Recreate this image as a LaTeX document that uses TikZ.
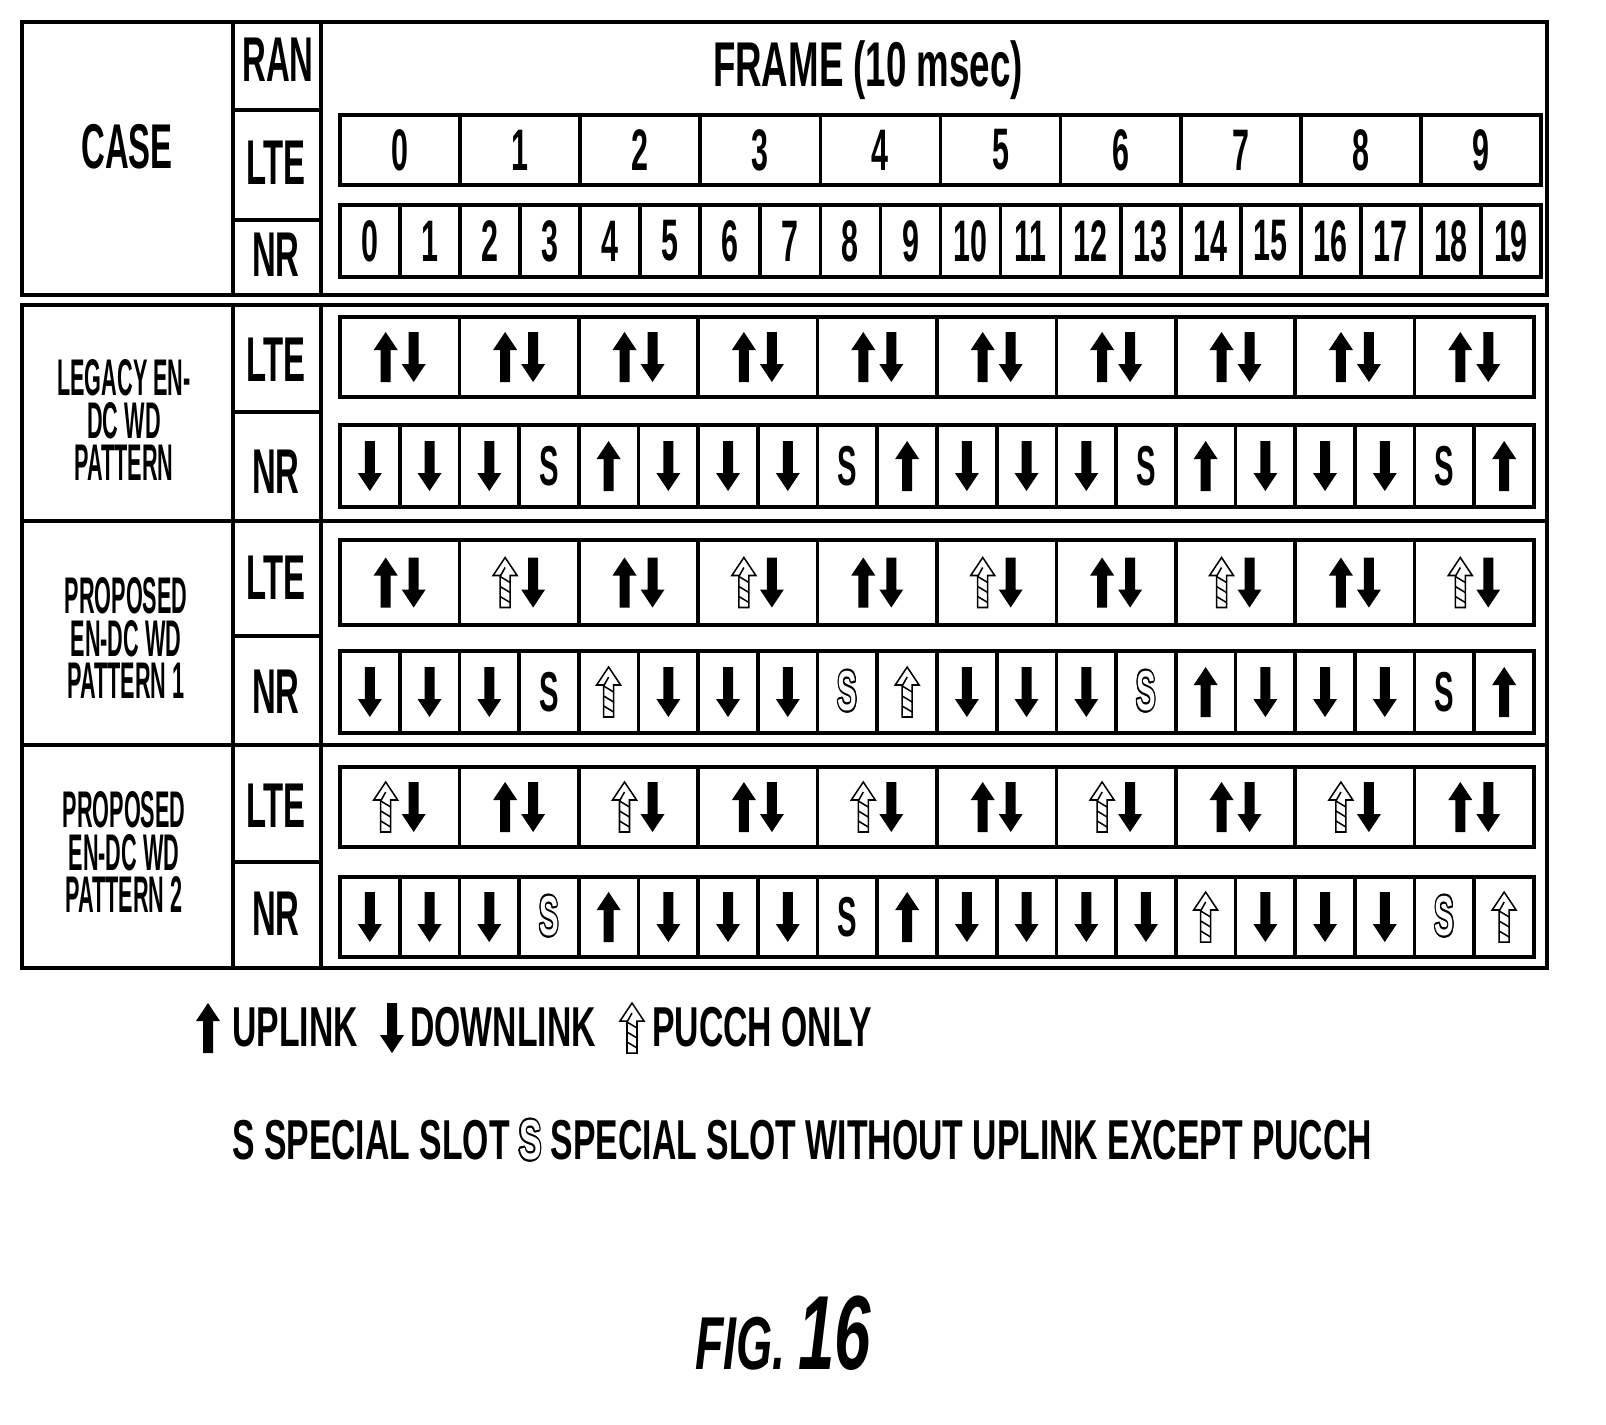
\documentclass[tikz,border=0pt]{standalone}
\usepackage{fontspec}
\setmainfont{Liberation Sans}
\usepackage{contour}
\contourlength{1.6pt}
\newcommand{\TX}[2][54]{\scalebox{0.52}[1]{\fontsize{#1}{#1}\selectfont\bfseries #2}}
\newcommand{\TC}[1]{\scalebox{0.42}[1]{\fontsize{44}{44}\selectfont\bfseries #1}}
\newcommand{\TL}[1]{\scalebox{0.6}[1]{\fontsize{48}{48}\selectfont\bfseries #1}}
\newcommand{\OutS}{\contour{black}{\textcolor{white}{S}}}
\tikzset{
 thk/.style={line width=3.2pt},
 lbl/.style={inner sep=0pt,anchor=center},
 pics/upS/.style={code={\fill[black] (-5,25)--(-5,-7)--(-12,-7)--(0,-25)--(12,-7)--(5,-7)--(5,25)--cycle;}},
 pics/dnS/.style={code={\fill[black] (-5,-25)--(-5,7)--(-12,7)--(0,25)--(12,7)--(5,7)--(5,-25)--cycle;}},
 pics/upH/.style={code={\draw[line width=1.3pt,fill=white] (-5,25)--(-5,-7)--(-12,-7)--(0,-25)--(12,-7)--(5,-7)--(5,25)--cycle;
   \foreach \yy in {20,10,0}{\draw[line width=1.3pt] (-5,\yy-6)--(5,\yy);}
   \draw[line width=1.3pt] (-5,-6)--(0,-15);}},
}
\begin{document}
\begin{tikzpicture}[x=0.3mm,y=-0.3mm]
% top table
\draw[thk] (22,22) rectangle (1547,295);
\draw[thk] (233,22)--(233,295) (321,22)--(321,295);
\draw[thk] (233,110)--(321,110) (233,220)--(321,220);
\node[lbl] (case) at (127,147) {\TX{CASE}};
\node[lbl] (ran) at (278,60) {\TX{RAN}};
\node[lbl] (hlte) at (276,163) {\TX{LTE}};
\node[lbl] (hnr) at (276,255) {\TX{NR}};
\node[lbl] (frame) at (868,70) {\scalebox{0.58}[1]{\fontsize{54}{54}\selectfont\bfseries FRAME (10 msec)}};
\draw[thk] (340,115) rectangle (1541,185);
\foreach \i in {1,...,9}{\draw[thk] ({340+\i*120.1},115)--({340+\i*120.1},185);}
\foreach \i in {0,...,9}{\node[lbl] (ln\i) at ({340+(\i+0.5)*120.1},150) {\TX[50]{\i}};}
\draw[thk] (340,205) rectangle (1541,277);
\foreach \i in {1,...,19}{\draw[thk] ({340+\i*60.05},205)--({340+\i*60.05},277);}
\foreach \i in {0,...,19}{\node[lbl] (nn\i) at ({340+(\i+0.5)*60.05},241) {\TX[50]{\i}};}
% lower table
\draw[thk] (22,305) rectangle (1547,968);
\draw[thk] (233,305)--(233,968) (321,305)--(321,968);
\draw[thk] (22,521)--(1547,521) (22,745)--(1547,745);
\draw[thk] (233,412)--(321,412) (233,636)--(321,636) (233,862)--(321,862);
\node[lbl,align=center] (c1) at (124,420) {\TC{LEGACY EN-}\\[4pt]\TC{DC WD}\\[4pt]\TC{PATTERN}};
\node[lbl,align=center] (c2) at (126,638) {\TC{PROPOSED}\\[4pt]\TC{EN-DC WD}\\[4pt]\TC{PATTERN 1}};
\node[lbl,align=center] (c3) at (124,852) {\TC{PROPOSED}\\[4pt]\TC{EN-DC WD}\\[4pt]\TC{PATTERN 2}};
\foreach \y/\n/\t in {360/a/LTE,472/b/NR,578/c/LTE,692/d/NR,806/e/LTE,914/f/NR}{
  \node[lbl] (r\n) at (276,\y) {\TX{\t}};}
% LTE rows
\foreach \ya/\yb/\pat in {317/397/{s,s,s,s,s,s,s,s,s,s},540/625/{s,h,s,h,s,h,s,h,s,h},767/847/{h,s,h,s,h,s,h,s,h,s}}{
  \draw[thk] (340,\ya) rectangle (1534,\yb);
  \foreach \i in {1,...,9}{\draw[thk] ({340+\i*119.4},\ya)--({340+\i*119.4},\yb);}
  \foreach \p [count=\k from 0] in \pat{
    \pgfmathsetmacro\cx{340+(\k+0.5)*119.4}
    \pgfmathsetmacro\cy{(\ya+\yb)/2}
    \if\p s \pic at (\cx-14,\cy) {upS};\else \pic at (\cx-14,\cy) {upH};\fi
    \pic at (\cx+14,\cy) {dnS};
  }
}
% NR rows
\foreach \ya/\yb/\pat in {425/507/{d,d,d,s,u,d,d,d,s,u,d,d,d,s,u,d,d,d,s,u},651/733/{d,d,d,s,h,d,d,d,t,h,d,d,d,t,u,d,d,d,s,u},877/957/{d,d,d,t,u,d,d,d,s,u,d,d,d,d,h,d,d,d,t,h}}{
  \draw[thk] (340,\ya) rectangle (1534,\yb);
  \foreach \i in {1,...,19}{\draw[thk] ({340+\i*59.7},\ya)--({340+\i*59.7},\yb);}
  \foreach \p [count=\k from 0] in \pat{
    \pgfmathsetmacro\cx{340+(\k+0.5)*59.7}
    \pgfmathsetmacro\cy{(\ya+\yb)/2}
    \if\p d \pic at (\cx,\cy) {dnS};\fi
    \if\p u \pic at (\cx,\cy) {upS};\fi
    \if\p h \pic at (\cx,\cy) {upH};\fi
    \if\p s \node[lbl] at (\cx,\cy) {\TX[48]{S}};\fi
    \if\p t \node[lbl] at (\cx,\cy) {\TX[48]{\OutS}};\fi
  }
}
% legend
\pic at (208,1028) {upS};
\node[lbl,anchor=west] (l1) at (232,1027) {\TL{UPLINK}};
\pic at (392,1028) {dnS};
\node[lbl,anchor=west] (l2) at (410,1027) {\TL{DOWNLINK}};
\pic at (632,1028) {upH};
\node[lbl,anchor=west] (l3) at (652,1027) {\TL{PUCCH ONLY}};
\node[lbl,anchor=west] (l4) at (232,1141) {\TL{S SPECIAL SLOT \OutS\ SPECIAL SLOT WITHOUT UPLINK EXCEPT PUCCH}};
\node[lbl] (fig) at (783,1333) {\scalebox{0.62}[1]{\fontsize{64}{64}\selectfont\bfseries\itshape FIG. \fontsize{90}{90}\selectfont 16}};
\pgfresetboundingbox
\useasboundingbox (0,0) rectangle (1606,1424);
\end{tikzpicture}
\end{document}
